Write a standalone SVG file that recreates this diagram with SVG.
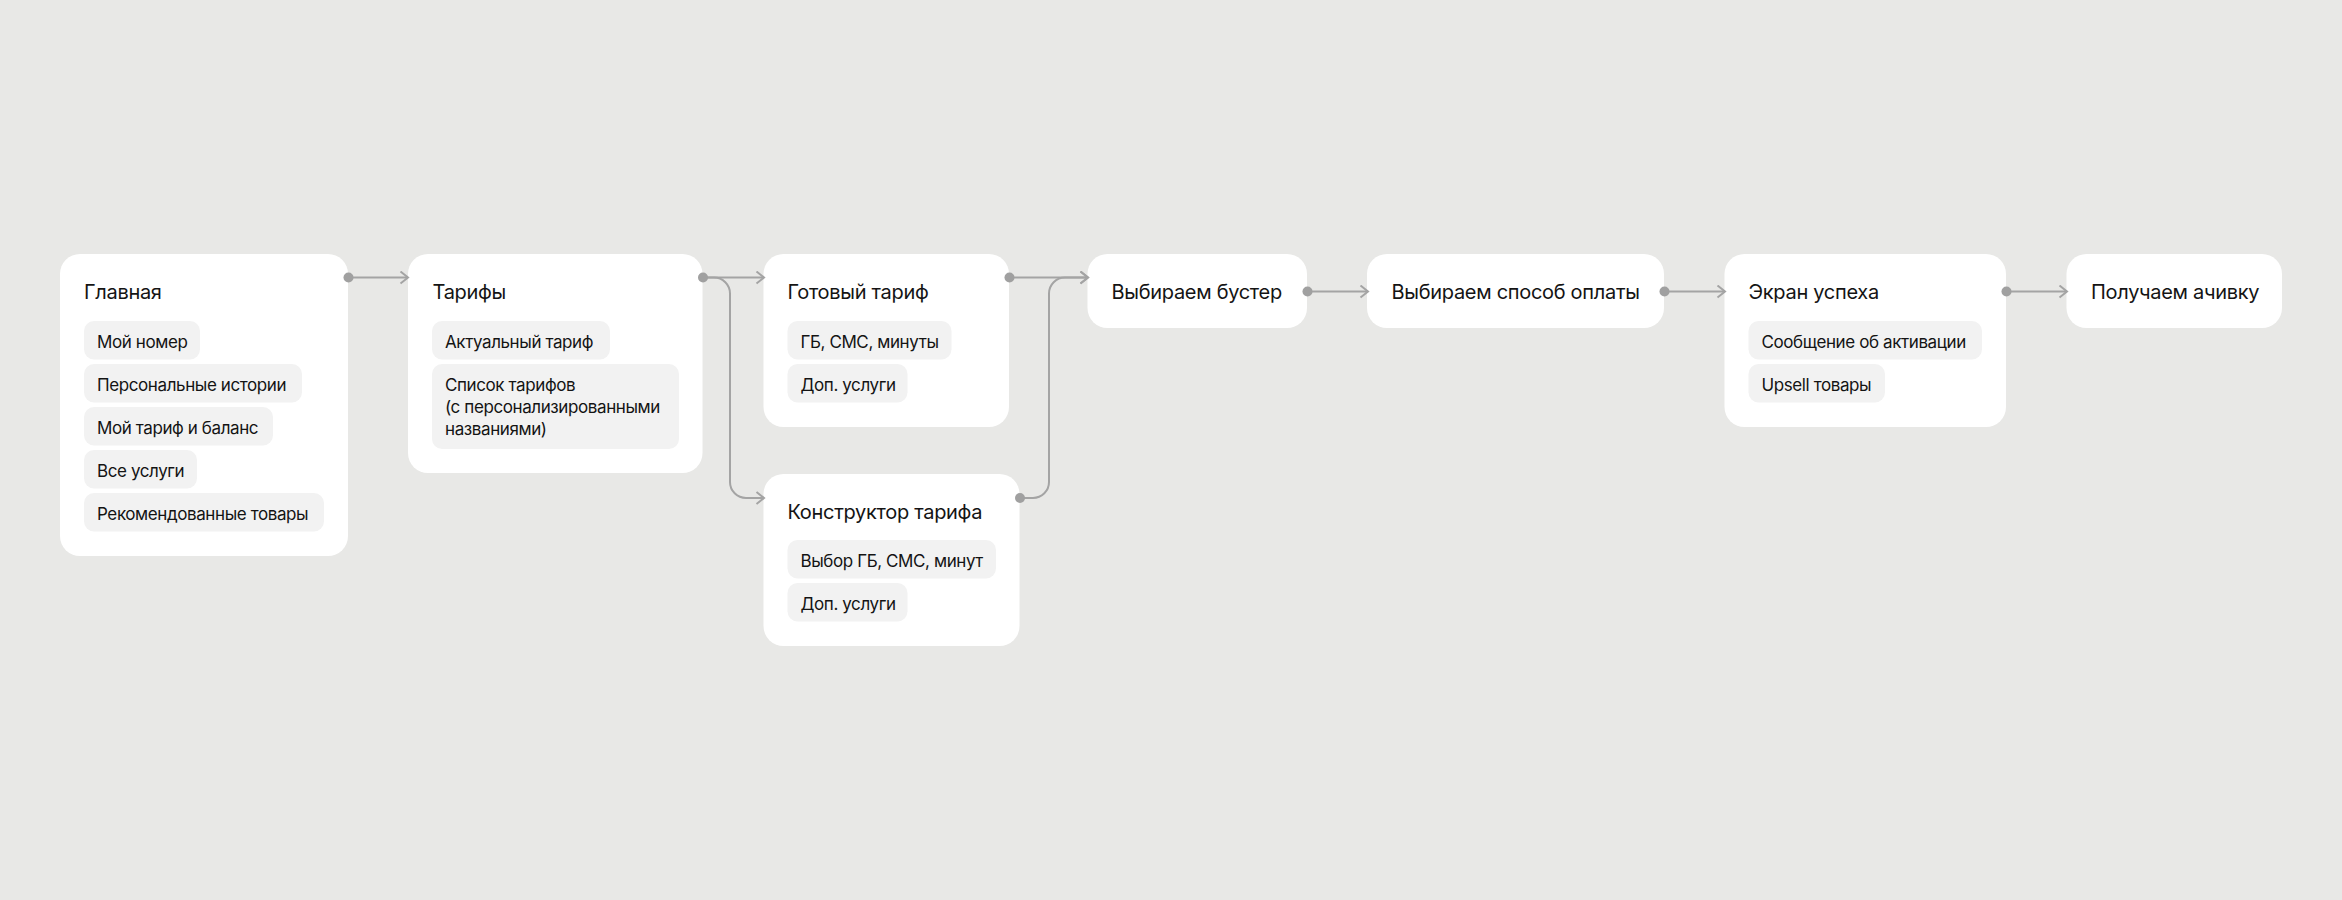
<svg xmlns="http://www.w3.org/2000/svg" width="2342" height="900" viewBox="0 0 2342 900">
<style>
.bg{fill:#e8e8e6}
.box{fill:#ffffff}
.chip{fill:#f2f2f2}
.t{font-family:Inter,"Noto Sans","Liberation Sans",sans-serif;font-size:20px;fill:#141414;letter-spacing:-0.3px}
.c{font-family:Inter,"Noto Sans","Liberation Sans",sans-serif;font-size:17px;fill:#141414;letter-spacing:-0.4px}
.ln{fill:none;stroke:#a4a4a4;stroke-width:2}
.dot{fill:#a0a0a0}
</style>
<defs>
<marker id="arr" markerUnits="userSpaceOnUse" markerWidth="12" markerHeight="16" refX="9" refY="7" orient="auto">
<path d="M1.5,1 L9,7 L1.5,13" fill="none" stroke="#a4a4a4" stroke-width="2"/>
</marker>
</defs>
<rect class="bg" x="0" y="0" width="2342" height="900"/>

<g id="node-glavnaya">
<rect class="box" x="60" y="254" width="288" height="302" rx="20"/>
<text class="t" x="84" y="299">Главная</text>
<rect class="chip" x="84" y="321" width="116" height="38.5" rx="10"/>
<text class="c" x="97" y="347.5">Мой номер</text>
<rect class="chip" x="84" y="364" width="218" height="38.5" rx="10"/>
<text class="c" x="97" y="390.5">Персональные истории</text>
<rect class="chip" x="84" y="407" width="189" height="38.5" rx="10"/>
<text class="c" x="97" y="433.5">Мой тариф и баланс</text>
<rect class="chip" x="84" y="450" width="113" height="38.5" rx="10"/>
<text class="c" x="97" y="476.5">Все услуги</text>
<rect class="chip" x="84" y="493" width="240" height="38.5" rx="10"/>
<text class="c" x="97" y="519.5">Рекомендованные товары</text>
</g>

<g id="node-tarify">
<rect class="box" x="408" y="254" width="294.5" height="219" rx="20"/>
<text class="t" x="432.5" y="299">Тарифы</text>
<rect class="chip" x="432" y="321" width="178" height="38.5" rx="10"/>
<text class="c" x="445" y="347.5">Актуальный тариф</text>
<rect class="chip" x="432" y="364" width="247" height="85" rx="10"/>
<text class="c" x="445" y="390.5">Список тарифов</text>
<text class="c" x="445" y="412.5">(с персонализированными</text>
<text class="c" x="445" y="434.5">названиями)</text>
</g>

<g id="node-gotovyi">
<rect class="box" x="763.5" y="254" width="245.5" height="173" rx="20"/>
<text class="t" x="787.5" y="299">Готовый тариф</text>
<rect class="chip" x="787.5" y="321" width="164" height="38.5" rx="10"/>
<text class="c" x="800.5" y="347.5">ГБ, СМС, минуты</text>
<rect class="chip" x="787.5" y="364" width="120" height="38.5" rx="10"/>
<text class="c" x="800.5" y="390.5">Доп. услуги</text>
</g>

<g id="node-konstruktor">
<rect class="box" x="763.5" y="474" width="256" height="172" rx="20"/>
<text class="t" x="787.5" y="519">Конструктор тарифа</text>
<rect class="chip" x="787.5" y="540" width="208.5" height="38.5" rx="10"/>
<text class="c" x="800.5" y="566.5">Выбор ГБ, СМС, минут</text>
<rect class="chip" x="787.5" y="583" width="120" height="38.5" rx="10"/>
<text class="c" x="800.5" y="609.5">Доп. услуги</text>
</g>

<g id="node-buster">
<rect class="box" x="1087.5" y="254" width="219.5" height="74" rx="20"/>
<text class="t" x="1111.5" y="299">Выбираем бустер</text>
</g>

<g id="node-oplata">
<rect class="box" x="1367" y="254" width="297" height="74" rx="20"/>
<text class="t" x="1391.5" y="299">Выбираем способ оплаты</text>
</g>

<g id="node-uspeh">
<rect class="box" x="1724.5" y="254" width="281.5" height="173" rx="20"/>
<text class="t" x="1748.5" y="299">Экран успеха</text>
<rect class="chip" x="1748.5" y="321" width="233.5" height="38.5" rx="10"/>
<text class="c" x="1761.5" y="347.5">Сообщение об активации</text>
<rect class="chip" x="1748.5" y="364" width="136.5" height="38.5" rx="10"/>
<text class="c" x="1761.5" y="390.5">Upsell товары</text>
</g>

<g id="node-achivka">
<rect class="box" x="2066.5" y="254" width="215.5" height="74" rx="20"/>
<text class="t" x="2091" y="299">Получаем ачивку</text>
</g>

<g id="connectors">
<path class="ln" d="M348,277.5 H408" marker-end="url(#arr)"/>
<path class="ln" d="M702.5,277.5 H764" marker-end="url(#arr)"/>
<path class="ln" d="M702.5,277.5 H714 A16,16 0 0 1 730,293.5 V482 A16,16 0 0 0 746,498 H764" marker-end="url(#arr)"/>
<path class="ln" d="M1009,277.5 H1088" marker-end="url(#arr)"/>
<path class="ln" d="M1019.5,498 H1033 A16,16 0 0 0 1049,482 V293.5 A16,16 0 0 1 1065,277.5 H1088" marker-end="url(#arr)"/>
<path class="ln" d="M1307,291.5 H1368" marker-end="url(#arr)"/>
<path class="ln" d="M1664,291.5 H1725" marker-end="url(#arr)"/>
<path class="ln" d="M2006,291.5 H2067" marker-end="url(#arr)"/>
<circle class="dot" cx="348.5" cy="277.5" r="5"/>
<circle class="dot" cx="703" cy="277.5" r="5"/>
<circle class="dot" cx="1009.5" cy="277.5" r="5"/>
<circle class="dot" cx="1020" cy="498" r="5"/>
<circle class="dot" cx="1307.5" cy="291.5" r="5"/>
<circle class="dot" cx="1664.5" cy="291.5" r="5"/>
<circle class="dot" cx="2006.5" cy="291.5" r="5"/>
</g>
</svg>
